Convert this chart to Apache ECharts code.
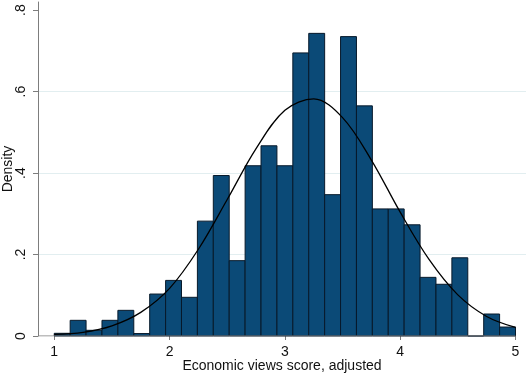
<!DOCTYPE html>
<html>
<head>
<meta charset="utf-8">
<script src="https://cdn.jsdelivr.net/npm/echarts@6/dist/echarts.min.js"></script>
<style>html,body{margin:0;padding:0;background:#fff}#c{width:526px;height:376px}</style>
</head>
<body>
<div id="c"></div>
<script>
// Histogram: 29 equal-width bins from 1 to 5
const binStart = 1;
const binEnd = 5;
const densities = [0.0066, 0.0385, 0.014, 0.0385, 0.063, 0.006, 0.103, 0.1365, 0.095, 0.282,
  0.394, 0.185, 0.418, 0.467, 0.418, 0.695, 0.743, 0.347, 0.735, 0.565,
  0.312, 0.312, 0.273, 0.144, 0.127, 0.192, 0, 0.054, 0.022];
// Normal density overlay
const curveX = [1, 1.25, 1.5, 1.75, 2, 2.25, 2.5, 2.75, 3, 3.25, 3.5, 3.75, 4, 4.25, 4.5, 4.75, 5];
const curveY = [0.004, 0.009, 0.025, 0.058, 0.117, 0.213, 0.335, 0.46, 0.554, 0.582, 0.536, 0.432, 0.304, 0.188, 0.101, 0.048, 0.021];
// Tick labels
const xTicks = [1, 2, 3, 4, 5];
const yTicks = [0, 0.2, 0.4, 0.6, 0.8];
const xTitle = 'Economic views score, adjusted';
const yTitle = 'Density';

const xMin = 0.859, xMax = 5.091, yMin = 0, yMax = 0.82;
const binW = (binEnd - binStart) / densities.length;
const binData = densities.map((d, i) => [binStart + i * binW, binStart + (i + 1) * binW, d]);
const curveData = curveX.map((x, i) => [x, curveY[i]]);

const FONT = '"Liberation Sans", Arial, sans-serif';
const TXT = '#111';
const AX = '#7d7d7d';
const FS = 14;

const chart = echarts.init(document.getElementById('c'), null, {renderer: 'canvas'});
chart.setOption({
  animation: false,
  backgroundColor: '#fff',
  grid: {left: 38, right: 0, top: 2, bottom: 40, containLabel: false, outerBoundsMode: 'none'},
  xAxis: {
    type: 'value', min: xMin, max: xMax,
    name: xTitle, nameLocation: 'middle', nameGap: 30, nameMoveOverlap: false,
    nameTextStyle: {fontFamily: FONT, fontSize: FS, color: TXT, align: 'center', verticalAlign: 'middle'},
    axisLine: {show: false},
    axisTick: {show: true, customValues: xTicks, length: 4, lineStyle: {color: AX}},
    axisLabel: {customValues: xTicks, margin: 9, fontFamily: FONT, fontSize: FS, color: TXT},
    splitLine: {show: false}
  },
  yAxis: {
    type: 'value', min: yMin, max: yMax, interval: 0.2,
    name: yTitle, nameLocation: 'middle', nameGap: 30, nameRotate: 90, nameMoveOverlap: false,
    nameTextStyle: {fontFamily: FONT, fontSize: FS, color: TXT, align: 'center', verticalAlign: 'middle'},
    axisLine: {show: true, lineStyle: {color: AX, width: 1}},
    axisTick: {show: true, customValues: yTicks, length: 5, lineStyle: {color: AX}},
    axisLabel: {customValues: yTicks, rotate: 90, margin: 10,
      fontFamily: FONT, fontSize: FS, color: TXT,
      formatter: v => v === 0 ? '0' : v.toFixed(1).replace(/^0/, '')},
    splitLine: {show: true, showMinLine: false, showMaxLine: false, lineStyle: {color: '#e2eef0', width: 1}}
  },
  series: [
    {
      type: 'custom',
      data: binData,
      encode: {x: [0, 1], y: 2},
      renderItem: (params, api) => {
        const p0 = api.coord([api.value(0), api.value(2)]);
        const p1 = api.coord([api.value(1), 0]);
        return {
          type: 'rect',
          shape: {x: p0[0], y: p0[1], width: p1[0] - p0[0], height: p1[1] - p0[1]},
          style: {fill: '#0b4a77', stroke: '#07192a', lineWidth: 1}
        };
      },
      z: 2
    },
    {
      type: 'line',
      data: [[xMin, 0], [xTicks[xTicks.length - 1], 0]],
      symbol: 'none',
      lineStyle: {color: AX, width: 1},
      silent: true,
      z: 3
    },
    {
      type: 'line',
      data: curveData,
      smooth: 0.35,
      symbol: 'none',
      lineStyle: {color: '#000', width: 1.3},
      silent: true,
      z: 4
    }
  ]
});
</script>
</body>
</html>
